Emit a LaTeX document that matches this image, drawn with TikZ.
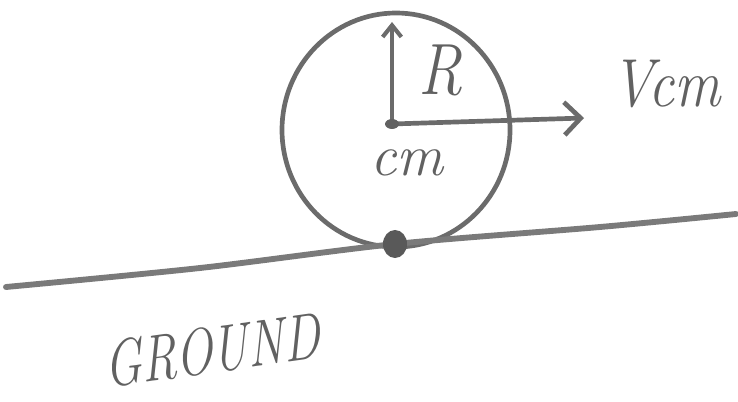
\documentclass[tikz,border=0pt]{standalone}
\usepackage{fontspec}
\usetikzlibrary{arrows.meta}
\tikzset{
  pencil/.style={draw=black!58, line width=4pt, line cap=round, line join=round},
  handtext/.style={text=black!62, inner sep=0pt},
}
\begin{document}
\begin{tikzpicture}[x=0.03cm, y=-0.03cm]
	\useasboundingbox (0,0) rectangle (738,402);
	% wheel
	\coordinate (cm) at (392,124);
	\draw[pencil] (396,130) ellipse [x radius=114, y radius=117];
	% radius arrow and velocity arrow
	\coordinate (rtop) at (392,22);
	\coordinate (vtip) at (584,118);
	\draw[pencil, -{Straight Barb[length=10pt, width=16pt, line width=3.5pt]}] (cm) -- (rtop);
	\draw[pencil, -{Straight Barb[length=14pt, width=28pt, line width=4pt]}] (cm) -- (vtip);
	\fill[black!62] (cm) ellipse [x radius=7, y radius=5];
	% ground
	\coordinate (gl) at (6,287);
	\coordinate (contact) at (395,244);
	\coordinate (gr) at (736,214);
	\draw[pencil, line width=5pt, draw=black!52] plot[smooth] coordinates {(gl) (200,268) (contact) (600,227) (gr)};
	\fill[black!65] (contact) ellipse [x radius=12, y radius=14];
	% labels
	\node[handtext, font=\fontsize{62}{62}\selectfont\itshape, xscale=0.85] (rlab) at (441,70) {R};
	\node[handtext, font=\fontsize{50}{50}\selectfont\itshape] (cmlab) at (407,163) {cm};
	\node[handtext, font=\fontsize{58}{58}\selectfont\itshape, xscale=0.85] (vlab) at (666,84) {Vcm};
	\node[handtext, font=\fontsize{56}{56}\selectfont\itshape, xscale=0.75, rotate=6] (glab) at (212,350) {GROUND};
\end{tikzpicture}
\end{document}
